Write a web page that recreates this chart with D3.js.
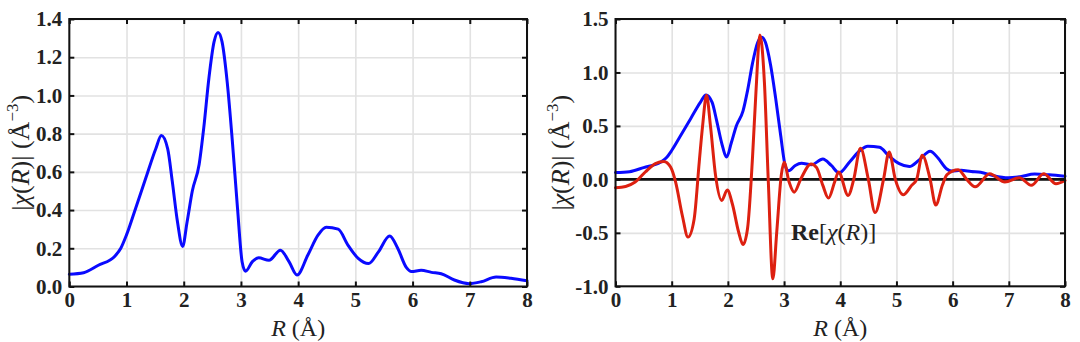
<!DOCTYPE html>
<html>
<head>
<meta charset="utf-8">
<script src="https://cdn.jsdelivr.net/npm/d3@7"></script>
<style>
  html, body { margin: 0; padding: 0; background: #fff; }
  svg { display: block; }
  .tick text { font-family: "Liberation Serif", serif; font-weight: bold; font-size: 21px; fill: #222; }
  .label { font-family: "Liberation Serif", serif; font-size: 24px; fill: #222; }
  .ylabel { font-family: "Liberation Serif", serif; font-size: 26px; fill: #222; }
</style>
</head>
<body>
<svg id="chart" width="1080" height="342"></svg>
<script>
// |chi(R)| magnitude of the Fourier transform
const rAbs = [0.00, 0.25, 0.50, 0.80, 0.90, 1.00, 1.16, 1.34, 1.51, 1.61, 1.72, 1.80, 1.89, 1.98,
  2.06, 2.15, 2.27, 2.35, 2.44, 2.53, 2.60, 2.67, 2.76, 2.85, 2.94, 3.02, 3.08, 3.20, 3.31, 3.49,
  3.69, 3.84, 3.98, 4.17, 4.35, 4.49, 4.70, 4.87, 5.05, 5.23, 5.40, 5.60, 5.74, 5.89, 5.98, 6.15,
  6.33, 6.50, 6.73, 6.99, 7.20, 7.46, 7.72, 8.00];
const chiAbs = [0.064, 0.072, 0.11, 0.16, 0.20, 0.27, 0.41, 0.57, 0.72, 0.79, 0.72, 0.55, 0.34, 0.21,
  0.34, 0.50, 0.64, 0.83, 1.09, 1.28, 1.33, 1.28, 1.07, 0.76, 0.41, 0.13, 0.08, 0.13, 0.15, 0.137,
  0.19, 0.13, 0.06, 0.165, 0.27, 0.31, 0.30, 0.217, 0.147, 0.12, 0.18, 0.264, 0.20, 0.10, 0.078, 0.085,
  0.074, 0.067, 0.034, 0.015, 0.025, 0.05, 0.043, 0.03];

// Re[chi(R)] real part
const rRe = [0.00, 0.18, 0.35, 0.53, 0.71, 0.86, 0.98, 1.07, 1.19, 1.29, 1.40, 1.49, 1.55, 1.62, 1.69,
  1.78, 1.89, 1.99, 2.08, 2.19, 2.27, 2.35, 2.44, 2.50, 2.57, 2.65, 2.72, 2.80, 2.87, 2.95, 3.00,
  3.09, 3.18, 3.30, 3.48, 3.58, 3.69, 3.79, 3.90, 3.97, 4.14, 4.24, 4.36, 4.50, 4.62, 4.77, 4.87,
  4.98, 5.12, 5.27, 5.36, 5.46, 5.60, 5.70, 5.82, 5.90, 6.10, 6.25, 6.40, 6.66, 6.93, 7.19, 7.40,
  7.62, 7.84, 8.00];
const chiRe = [-0.078, -0.066, -0.025, 0.069, 0.147, 0.168, 0.115, -0.025, -0.34, -0.54, -0.37, 0.16, 0.50, 0.786, 0.50,
  0.04, -0.197, -0.10, -0.23, -0.49, -0.61, -0.46, 0.22, 0.82, 1.35, 0.91, -0.025, -0.93, -0.49, 0.037, 0.16,
  -0.025, -0.12, 0.006, 0.145, 0.11, -0.056, -0.175, -0.025, 0.07, -0.15, 0.0, 0.29, 0.0, -0.31, 0.0, 0.256,
  0.0, -0.144, -0.056, 0.0, 0.225, 0.0, -0.24, -0.05, 0.044, 0.09, 0.0, -0.07, 0.053, -0.025, 0.016, -0.056,
  0.053, -0.04, -0.01];

const xTicks = [0, 1, 2, 3, 4, 5, 6, 7, 8];
const yTicksLeft = [0, 0.2, 0.4, 0.6, 0.8, 1.0, 1.2, 1.4];
const yTicksRight = [-1.0, -0.5, 0.0, 0.5, 1.0, 1.5];

const svg = d3.select("#chart");
const fmt = v => (v < 0 ? "-" : "") + Math.abs(v).toFixed(1);

function panel(opt) {
  const x = d3.scaleLinear().domain([0, 8]).range([opt.x0, opt.x1]);
  const y = d3.scaleLinear().domain(opt.yDomain).range([opt.y1, opt.y0]);
  const w = opt.x1 - opt.x0, h = opt.y1 - opt.y0;
  const g = svg.append("g");

  // grid
  g.append("g").attr("transform", `translate(0,${opt.y1})`)
    .call(d3.axisBottom(x).tickValues(xTicks).tickSize(-h).tickFormat(""))
    .call(s => s.select(".domain").remove())
    .call(s => s.selectAll("line").attr("stroke", "#e2e2e2").attr("stroke-width", 1.6));
  g.append("g").attr("transform", `translate(${opt.x0},0)`)
    .call(d3.axisLeft(y).tickValues(opt.yTicks).tickSize(-w).tickFormat(""))
    .call(s => s.select(".domain").remove())
    .call(s => s.selectAll("line").attr("stroke", "#e2e2e2").attr("stroke-width", 1.6));

  if (opt.zero) {
    g.append("line")
      .attr("x1", x(0)).attr("x2", x(8)).attr("y1", y(0)).attr("y2", y(0))
      .attr("stroke", "#111").attr("stroke-width", 2.6);
  }

  const line = (xs, ys) => d3.line().x((d, i) => x(xs[i])).y(d => y(d)).curve(d3.curveMonotoneX)(ys);
  opt.series.forEach(s => {
    g.append("path").attr("d", line(s.xs, s.ys))
      .attr("fill", "none").attr("stroke", s.color).attr("stroke-width", 3)
      .attr("stroke-linejoin", "round").attr("stroke-linecap", "round");
  });

  // axes with inward ticks on all four sides
  const tk = 5;
  g.append("g").attr("transform", `translate(0,${opt.y1})`)
    .call(d3.axisBottom(x).tickValues(xTicks).tickSize(-tk).tickPadding(6).tickFormat(d3.format("d")))
    .call(s => s.select(".domain").remove())
    .call(s => s.selectAll("line").attr("stroke", "#111").attr("stroke-width", 2));
  g.append("g").attr("transform", `translate(0,${opt.y0})`)
    .call(d3.axisTop(x).tickValues(xTicks).tickSize(-tk).tickFormat(""))
    .call(s => s.select(".domain").remove())
    .call(s => s.selectAll("line").attr("stroke", "#111").attr("stroke-width", 2));
  g.append("g").attr("transform", `translate(${opt.x0},0)`)
    .call(d3.axisLeft(y).tickValues(opt.yTicks).tickSize(-tk).tickPadding(7).tickFormat(fmt))
    .call(s => s.select(".domain").remove())
    .call(s => s.selectAll("line").attr("stroke", "#111").attr("stroke-width", 2));
  g.append("g").attr("transform", `translate(${opt.x1},0)`)
    .call(d3.axisRight(y).tickValues(opt.yTicks).tickSize(-tk).tickFormat(""))
    .call(s => s.select(".domain").remove())
    .call(s => s.selectAll("line").attr("stroke", "#111").attr("stroke-width", 2));

  g.append("rect").attr("x", opt.x0).attr("y", opt.y0).attr("width", w).attr("height", h)
    .attr("fill", "none").attr("stroke", "#111").attr("stroke-width", 2);

  // x label: R (Å)
  const xl = g.append("text").attr("class", "label")
    .attr("x", (opt.x0 + opt.x1) / 2).attr("y", 336).attr("text-anchor", "middle");
  xl.append("tspan").attr("font-style", "italic").text("R");
  xl.append("tspan").text(" (Å)");

  // y label: |χ(R)| (Å⁻³)
  const yl = g.append("text").attr("class", "ylabel")
    .attr("transform", `translate(${opt.ylx},${(opt.y0 + opt.y1) / 2}) rotate(-90)`)
    .attr("text-anchor", "middle");
  yl.append("tspan").text("|");
  yl.append("tspan").attr("font-style", "italic").text("χ");
  yl.append("tspan").text("(");
  yl.append("tspan").attr("font-style", "italic").text("R");
  yl.append("tspan").text(")| (Å");
  yl.append("tspan").attr("font-size", "17px").attr("dy", -11).text("−3");
  yl.append("tspan").attr("dy", 11).text(")");
  return { x, y, g };
}

panel({
  x0: 69.3, x1: 527, y0: 19, y1: 286.5, yDomain: [0, 1.4], yTicks: yTicksLeft, ylx: 29,
  series: [{ xs: rAbs, ys: chiAbs, color: "#0a0aff" }]
});

const right = panel({
  x0: 615.5, x1: 1065, y0: 19, y1: 286.3, yDomain: [-1, 1.5], yTicks: yTicksRight, ylx: 569, zero: true,
  series: [{ xs: rAbs, ys: chiAbs, color: "#0a0aff" }, { xs: rRe, ys: chiRe, color: "#dd2010" }]
});

// series annotation
const re = right.g.append("text").attr("class", "label").attr("x", 791).attr("y", 240);
re.append("tspan").attr("font-weight", "bold").text("Re");
re.append("tspan").text("[");
re.append("tspan").attr("font-style", "italic").text("χ");
re.append("tspan").text("(");
re.append("tspan").attr("font-style", "italic").text("R");
re.append("tspan").text(")]");
</script>
</body>
</html>
